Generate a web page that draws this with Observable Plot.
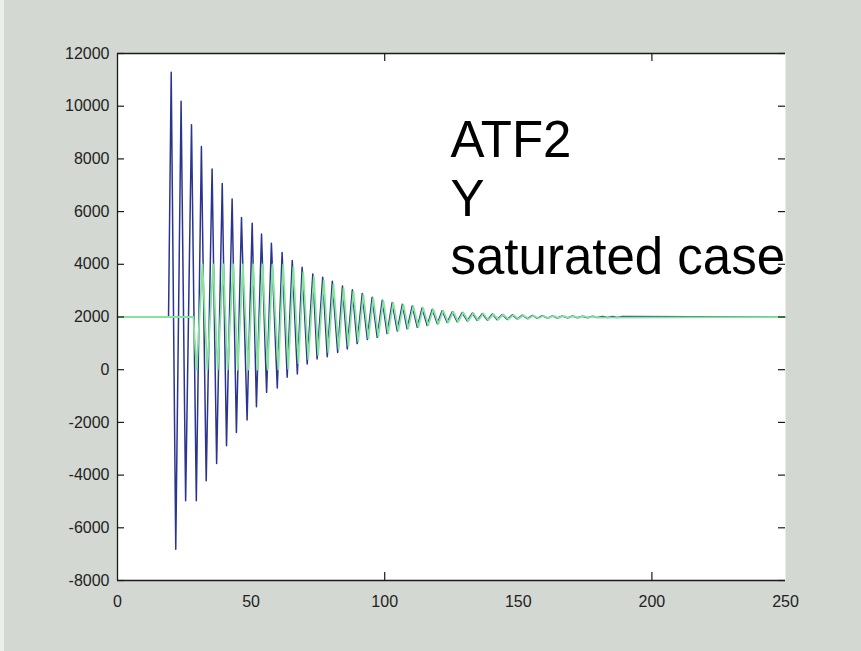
<!DOCTYPE html>
<html><head><meta charset="utf-8">
<script src="https://cdn.jsdelivr.net/npm/d3@7"></script>
<script src="https://cdn.jsdelivr.net/npm/@observablehq/plot@0.6"></script>
<style>
html,body{margin:0;padding:0;}
body{background:#d4d8d3;width:861px;height:651px;overflow:hidden;position:relative;}
#strip{position:absolute;left:0;top:0;width:4px;height:651px;background:#eceeec;}
#chart{position:absolute;left:0;top:0;}
</style></head><body><div id="strip"></div><div id="chart"></div>
<script>
const xDomain = [0, 250];
const yDomain = [-8000, 12000];
const xTicks = [0, 50, 100, 150, 200, 250];
const xInnerTicks = [100, 200];
const yTicks = [-8000, -6000, -4000, -2000, 0, 2000, 4000, 6000, 8000, 10000, 12000];

const blueT = [0, 19.1, 20.1, 21.8, 23.8, 25.5, 27.7, 29.5, 31.4, 33.2, 35.4, 37.1, 39.2, 40.8, 42.9, 44.5, 46.4, 48.5, 50.4, 52.0, 53.9, 55.8, 57.6, 59.8, 61.6, 63.5, 65.4, 67.3, 69.1, 71.0, 73.1, 74.7, 76.8, 78.5, 80.4, 82.4, 84.2, 86.0, 87.9, 89.7, 91.6, 93.5, 95.3, 97.2, 99.1, 100.9, 102.8, 104.7, 106.6, 108.4, 110.3, 112.2, 114.0, 115.9, 117.8, 119.7, 121.5, 123.4, 125.3, 127.1, 129.0, 130.9, 132.8, 134.6, 136.5, 138.4, 140.3, 142.1, 144.0, 145.9, 147.8, 149.6, 151.5, 153.4, 155.3, 157.1, 159.0, 160.9, 162.8, 164.6, 166.5, 168.4, 170.3, 172.1, 174.0, 175.9, 177.8, 179.6, 181.5, 183.4, 185.3, 187.1, 189.0, 250];
const blueV = [2000, 2000, 11290, -6810, 10190, -4970, 9300, -4970, 8470, -4215, 7620, -3560, 7070, -2890, 6480, -2380, 5780, -1910, 5555, -1405, 5150, -860, 4800, -695, 4450, -290, 4140, -160, 3885, 215, 3635, 405, 3505, 495, 3355, 655, 3180, 790, 3030, 990, 2890, 1150, 2750, 1230, 2640, 1370, 2550, 1470, 2480, 1550, 2420, 1610, 2340, 1680, 2290, 1740, 2240, 1790, 2200, 1820, 2170, 1850, 2150, 1870, 2130, 1880, 2110, 1900, 2095, 1910, 2080, 1925, 2070, 1935, 2060, 1945, 2050, 1955, 2045, 1960, 2040, 1965, 2035, 1970, 2030, 1975, 2025, 1978, 2022, 1980, 2020, 1982, 2018, 2000];

const greenT = [0, 28.4, 29.6, 31.8, 33.6, 35.8, 37.5, 39.6, 41.2, 43.3, 45.0, 46.9, 48.9, 50.8, 52.4, 54.3, 56.2, 58.0, 60.2, 62.0, 63.9, 65.8, 67.7, 69.5, 71.4, 73.5, 75.1, 77.2, 78.9, 80.8, 82.8, 84.6, 86.4, 88.3, 90.1, 92.0, 93.9, 95.7, 97.6, 99.5, 101.3, 103.2, 105.1, 107.0, 108.8, 110.7, 112.6, 114.4, 116.3, 118.2, 120.1, 121.9, 123.8, 125.7, 127.5, 129.4, 131.3, 133.2, 135.0, 136.9, 138.8, 140.7, 142.5, 144.4, 146.3, 148.2, 150.0, 151.9, 153.8, 155.7, 157.5, 159.4, 161.3, 163.2, 165.0, 166.9, 168.8, 170.7, 172.5, 174.4, 176.3, 178.2, 180.0, 250];
const greenV = [2000, 2000, 0, 4000, 0, 4000, 0, 4000, 0, 4000, 0, 4000, 0, 4000, 0, 4000, 0, 4000, 0, 4000, 30, 3900, 250, 3700, 400, 3520, 560, 3380, 660, 3240, 780, 3100, 900, 2970, 1060, 2850, 1190, 2720, 1260, 2620, 1390, 2540, 1480, 2470, 1560, 2410, 1620, 2340, 1690, 2290, 1740, 2240, 1790, 2200, 1820, 2170, 1850, 2150, 1870, 2130, 1880, 2110, 1900, 2095, 1910, 2080, 1925, 2070, 1935, 2060, 1945, 2050, 1955, 2045, 1960, 2040, 1965, 2035, 1970, 2030, 1975, 2025, 1978, 2000];

const annotationLines = ["ATF2", "Y", "saturated case"];

const blue = blueT.map((t, i) => ({t, v: blueV[i]}));
const green = greenT.map((t, i) => ({t, v: greenV[i]}));

const fmt = d => String(d);
const axisColor = "#1a1a1a";
const W = 861, H = 651, ML = 117, MR = 76, MT = 53, MB = 71;
const frameW = W - ML - MR, frameH = H - MT - MB;
const tick = 7;

const chart = Plot.plot({
  width: W,
  height: H,
  marginLeft: ML,
  marginRight: MR,
  marginTop: MT,
  marginBottom: MB,
  style: {background: "transparent", fontFamily: "Liberation Sans, Arial, sans-serif", color: "#222"},
  x: {domain: xDomain},
  y: {domain: yDomain},
  marks: [
    Plot.frame({fill: "white", stroke: null}),
    Plot.line(blue, {x: "t", y: "v", stroke: "#2a3590", strokeWidth: 1.5}),
    Plot.line(green, {x: "t", y: "v", stroke: "#86e49a", strokeWidth: 1.8}),
    // inner ticks
    Plot.ruleY(yTicks, {stroke: axisColor, strokeWidth: 1.2, insetRight: frameW - tick}),
    Plot.ruleY(yTicks, {stroke: axisColor, strokeWidth: 1.2, insetLeft: frameW - tick}),
    Plot.ruleX(xInnerTicks, {stroke: axisColor, strokeWidth: 1.2, insetBottom: frameH - tick - 1}),
    Plot.ruleX(xInnerTicks, {stroke: axisColor, strokeWidth: 1.2, insetTop: frameH - tick - 1}),
    // axis lines
    Plot.ruleX([xDomain[0]], {stroke: axisColor, strokeWidth: 1.3}),
    Plot.ruleY(yDomain, {stroke: axisColor, strokeWidth: 1.3}),
    // labels
    Plot.axisY({anchor: "left", ticks: yTicks, tickSize: 0, tickPadding: 8, tickFormat: fmt, label: null, fontSize: 16}),
    Plot.axisX({anchor: "bottom", ticks: xTicks, tickSize: 0, tickPadding: 15, tickFormat: fmt, label: null, fontSize: 16}),
    Plot.text([annotationLines.join("\n")], {
      text: d => d, frameAnchor: "top-left", dx: 333, dy: 62,
      textAnchor: "start", lineAnchor: "top", lineHeight: 1.15,
      fontSize: 51, fill: "black", fontFamily: "Liberation Sans, Arial, sans-serif"
    })
  ]
});
document.getElementById("chart").appendChild(chart);
</script>
</body></html>
